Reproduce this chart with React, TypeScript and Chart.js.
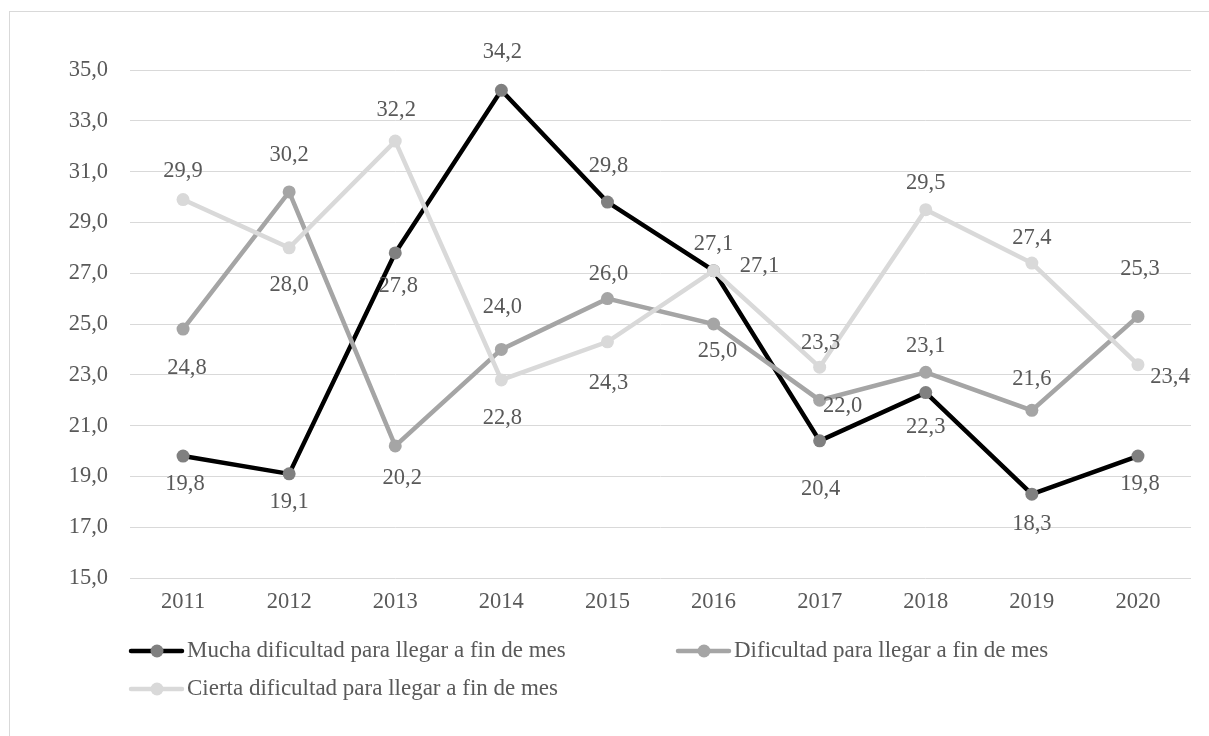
import React, { useEffect, useRef } from "react";
import { Chart, registerables } from "chart.js";

Chart.register(...registerables);

const years = ["2011", "2012", "2013", "2014", "2015", "2016", "2017", "2018", "2019", "2020"];
const mucha = [19.8, 19.1, 27.8, 34.2, 29.8, 27.1, 20.4, 22.3, 18.3, 19.8];
const dificultad = [24.8, 30.2, 20.2, 24.0, 26.0, 25.0, 22.0, 23.1, 21.6, 25.3];
const cierta = [29.9, 28.0, 32.2, 22.8, 24.3, 27.1, 23.3, 29.5, 27.4, 23.4];
const seriesNames = [
  "Mucha dificultad para llegar a fin de mes",
  "Dificultad para llegar a fin de mes",
  "Cierta dificultad para llegar a fin de mes",
];
const yMin = 15;
const yMax = 35;
const yStep = 2;

// label offsets (style only): [dx, dy] of label centre relative to point
const muchaLabelOffsets = [[2, 28], [0, 28], [3, 33], [1, -38], [1, -36], [0, -27], [1, 48], [0, 35], [0, 30], [2, 28]];
const dificultadLabelOffsets = [[4, 39], [0, -37], [7, 32], [1, -42], [1, -25], [4, 27], [23, 6], [0, -26], [0, -31], [2, -47]];
const ciertaLabelOffsets = [[0, -28], [0, 37], [1, -31], [1, 38], [1, 41], [46, -5], [1, -24], [0, -27], [0, -25], [32, 12]];

const FONT = "'Liberation Serif', 'Times New Roman', serif";
const TEXT = "#595959";
const AXIS_SIZE = 22.5;
const LEGEND_SIZE = 23;

const fmt = (v: number) => v.toFixed(1).replace(".", ",");

export default function App() {
  const ref = useRef<HTMLCanvasElement | null>(null);

  useEffect(() => {
    if (!ref.current) return;
    const offsetsByDs = [muchaLabelOffsets, dificultadLabelOffsets, ciertaLabelOffsets];

    const labelPlugin = {
      id: "pointLabels",
      afterDatasetsDraw(chart: any) {
        const ctx = chart.ctx;
        ctx.save();
        ctx.font = `${AXIS_SIZE}px ${FONT}`;
        ctx.fillStyle = TEXT;
        ctx.textAlign = "center";
        ctx.textBaseline = "middle";
        chart.data.datasets.forEach((ds: any, di: number) => {
          const meta = chart.getDatasetMeta(di);
          meta.data.forEach((pt: any, i: number) => {
            const off = offsetsByDs[di][i];
            ctx.fillText(fmt(ds.data[i]), pt.x + off[0], pt.y + off[1]);
          });
        });
        ctx.restore();
      },
    };

    const legendPlugin = {
      id: "customLegend",
      afterDraw(chart: any) {
        const ctx = chart.ctx;
        const left = chart.chartArea.left;
        const items = [
          { x: left, y: 651, ds: 0 },
          { x: left + 547, y: 651, ds: 1 },
          { x: left, y: 689, ds: 2 },
        ];
        ctx.save();
        items.forEach((it) => {
          const ds = chart.data.datasets[it.ds];
          ctx.strokeStyle = ds.borderColor;
          ctx.lineWidth = ds.borderWidth;
          ctx.lineCap = "round";
          ctx.beginPath();
          ctx.moveTo(it.x + 1, it.y);
          ctx.lineTo(it.x + 52, it.y);
          ctx.stroke();
          ctx.fillStyle = ds.pointBackgroundColor;
          ctx.beginPath();
          ctx.arc(it.x + 27, it.y, 6.5, 0, Math.PI * 2);
          ctx.fill();
          ctx.font = `${LEGEND_SIZE}px ${FONT}`;
          ctx.fillStyle = TEXT;
          ctx.textAlign = "left";
          ctx.textBaseline = "middle";
          ctx.fillText(ds.label, it.x + 57, it.y);
        });
        ctx.restore();
      },
    };

    const chart = new Chart(ref.current, {
      type: "line",
      data: {
        labels: years,
        datasets: [
          {
            label: seriesNames[0],
            data: mucha,
            borderColor: "#000000",
            backgroundColor: "#808080",
            pointBackgroundColor: "#808080",
            pointBorderColor: "#808080",
            borderWidth: 4.5,
            pointRadius: 6.5,
            pointBorderWidth: 0,
            tension: 0,
            order: 2,
          },
          {
            label: seriesNames[1],
            data: dificultad,
            borderColor: "#a5a5a5",
            backgroundColor: "#a5a5a5",
            pointBackgroundColor: "#a5a5a5",
            pointBorderColor: "#a5a5a5",
            borderWidth: 4.5,
            pointRadius: 6.5,
            pointBorderWidth: 0,
            tension: 0,
            order: 1,
          },
          {
            label: seriesNames[2],
            data: cierta,
            borderColor: "#d9d9d9",
            backgroundColor: "#d9d9d9",
            pointBackgroundColor: "#d9d9d9",
            pointBorderColor: "#d9d9d9",
            borderWidth: 4.5,
            pointRadius: 6.5,
            pointBorderWidth: 0,
            tension: 0,
            order: 0,
          },
        ],
      },
      options: {
        responsive: false,
        animation: false,
        devicePixelRatio: 1,
        layout: { padding: { top: 70, right: 18, bottom: 108, left: 0 } },
        plugins: {
          legend: { display: false },
          tooltip: { enabled: false },
        },
        scales: {
          x: {
            type: "category",
            offset: true,
            grid: { display: false, drawTicks: false },
            border: { display: false },
            ticks: {
              color: TEXT,
              font: { family: FONT, size: AXIS_SIZE },
              padding: 11,
              maxRotation: 0,
            },
            afterFit: (s: any) => {
              s.height = 50;
            },
          },
          y: {
            min: yMin,
            max: yMax,
            grid: { color: "#d9d9d9", lineWidth: 1, drawTicks: false },
            border: { display: false },
            ticks: {
              stepSize: yStep,
              color: TEXT,
              font: { family: FONT, size: AXIS_SIZE },
              padding: 22,
              callback: (v: any) => fmt(Number(v)),
            },
            afterFit: (s: any) => {
              s.width = 130;
            },
          },
        },
      },
      plugins: [labelPlugin, legendPlugin],
    } as any);

    return () => chart.destroy();
  }, []);

  return (
    <div style={{ position: "fixed", left: 0, top: 0, width: 1209, height: 736, overflow: "hidden", background: "#fff" }}>
      <div
        style={{
          position: "absolute",
          left: 9,
          top: 11,
          width: 1300,
          height: 800,
          border: "1px solid #d9d9d9",
          boxSizing: "border-box",
        }}
      />
      <canvas ref={ref} width={1209} height={736} style={{ position: "absolute", left: 0, top: 0, width: 1209, height: 736 }} />
    </div>
  );
}
